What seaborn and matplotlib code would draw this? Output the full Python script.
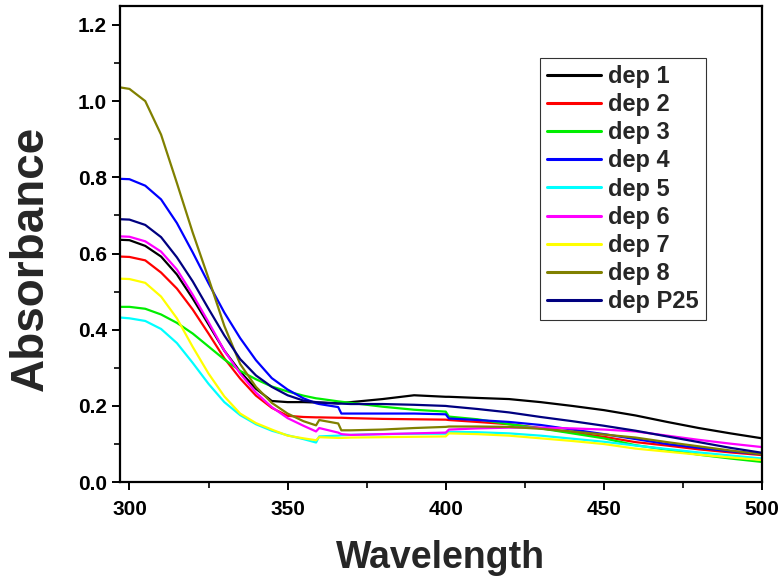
import matplotlib
matplotlib.use("Agg")
import matplotlib.pyplot as plt
import matplotlib.ticker as mticker
import pandas as pd
import seaborn as sns

wavelength = [297, 300, 305, 310, 315, 320, 325, 330, 335, 340, 345, 350, 355, 359, 360, 366, 367,
              370, 380, 390, 400, 401, 410, 420, 430, 440, 450, 460, 470, 480, 490, 500]

dep1 = [0.636, 0.635, 0.620, 0.592, 0.545, 0.482, 0.414, 0.345, 0.290, 0.245, 0.213, 0.210, 0.210, 0.209,
        0.209, 0.207, 0.208, 0.210, 0.218, 0.228, 0.224, 0.224, 0.221, 0.218, 0.210, 0.200, 0.189, 0.175,
        0.158, 0.142, 0.128, 0.115]
dep2 = [0.592, 0.591, 0.582, 0.550, 0.508, 0.453, 0.390, 0.325, 0.272, 0.227, 0.195, 0.174, 0.171, 0.170,
        0.170, 0.169, 0.169, 0.168, 0.166, 0.165, 0.164, 0.163, 0.158, 0.152, 0.142, 0.130, 0.119, 0.105,
        0.096, 0.086, 0.078, 0.071]
dep3 = [0.460, 0.460, 0.455, 0.440, 0.418, 0.390, 0.356, 0.322, 0.292, 0.270, 0.251, 0.238, 0.227, 0.220,
        0.219, 0.212, 0.211, 0.208, 0.198, 0.190, 0.185, 0.172, 0.165, 0.152, 0.141, 0.128, 0.115, 0.097,
        0.085, 0.072, 0.062, 0.053]
dep4 = [0.796, 0.795, 0.778, 0.742, 0.680, 0.603, 0.522, 0.445, 0.378, 0.320, 0.273, 0.243, 0.220, 0.207,
        0.205, 0.197, 0.180, 0.180, 0.180, 0.180, 0.178, 0.167, 0.163, 0.158, 0.150, 0.138, 0.126, 0.113,
        0.100, 0.090, 0.081, 0.073]
dep5 = [0.432, 0.430, 0.423, 0.402, 0.365, 0.313, 0.258, 0.210, 0.176, 0.152, 0.135, 0.123, 0.113, 0.104,
        0.120, 0.122, 0.123, 0.124, 0.126, 0.127, 0.127, 0.132, 0.131, 0.128, 0.122, 0.114, 0.106, 0.096,
        0.087, 0.078, 0.070, 0.062]
dep6 = [0.645, 0.644, 0.632, 0.605, 0.558, 0.492, 0.420, 0.345, 0.285, 0.235, 0.197, 0.168, 0.148, 0.133,
        0.142, 0.130, 0.126, 0.124, 0.126, 0.128, 0.130, 0.138, 0.141, 0.143, 0.143, 0.141, 0.138, 0.133,
        0.122, 0.111, 0.101, 0.092]
dep7 = [0.534, 0.533, 0.523, 0.487, 0.430, 0.355, 0.285, 0.225, 0.180, 0.155, 0.138, 0.122, 0.115, 0.110,
        0.118, 0.116, 0.116, 0.117, 0.118, 0.119, 0.120, 0.128, 0.126, 0.122, 0.115, 0.108, 0.100, 0.088,
        0.080, 0.072, 0.065, 0.058]
dep8 = [1.036, 1.032, 1.000, 0.912, 0.785, 0.655, 0.535, 0.410, 0.310, 0.250, 0.208, 0.180, 0.160, 0.149,
        0.163, 0.154, 0.136, 0.136, 0.138, 0.142, 0.145, 0.146, 0.146, 0.145, 0.140, 0.133, 0.125, 0.117,
        0.105, 0.094, 0.083, 0.073]
dep_p25 = [0.690, 0.689, 0.675, 0.643, 0.590, 0.527, 0.455, 0.385, 0.323, 0.280, 0.250, 0.228, 0.214, 0.210,
           0.209, 0.206, 0.206, 0.205, 0.205, 0.203, 0.200, 0.199, 0.192, 0.183, 0.171, 0.160, 0.148, 0.135,
           0.120, 0.105, 0.090, 0.077]

labels = ["dep 1", "dep 2", "dep 3", "dep 4", "dep 5", "dep 6", "dep 7", "dep 8", "dep P25"]
series = [dep1, dep2, dep3, dep4, dep5, dep6, dep7, dep8, dep_p25]
colors = ["#000000", "#ff0000", "#00ee00", "#0000ff", "#00ffff", "#ff00ff", "#ffff00", "#808000", "#000080"]

df = pd.concat(
    [pd.DataFrame({"Wavelength": wavelength, "Absorbance": vals, "sample": name})
     for name, vals in zip(labels, series)],
    ignore_index=True,
)

sns.set_style("ticks")
plt.rcParams["font.family"] = ["Liberation Sans", "DejaVu Sans"]
plt.rcParams["font.weight"] = "bold"

fig = plt.figure(figsize=(7.84, 5.83), dpi=100)
ax = fig.add_axes([0.153, 0.173, 0.819, 0.817])

sns.lineplot(data=df, x="Wavelength", y="Absorbance", hue="sample", palette=colors,
             estimator=None, sort=False, linewidth=1.6, ax=ax)

ax.set_xlim(297, 500)
ax.set_ylim(0, 1.25)
ax.xaxis.set_major_locator(mticker.MultipleLocator(50))
ax.xaxis.set_minor_locator(mticker.MultipleLocator(25))
ax.yaxis.set_major_locator(mticker.MultipleLocator(0.2))
ax.yaxis.set_minor_locator(mticker.MultipleLocator(0.1))
ax.yaxis.set_major_formatter(mticker.FormatStrFormatter("%.1f"))

for s in ax.spines.values():
    s.set_linewidth(1.6)
    s.set_color("black")
ax.tick_params(which="major", direction="out", length=6, width=1.4, labelsize=15, colors="black")
ax.tick_params(axis="x", which="major", pad=7)
ax.tick_params(which="minor", direction="out", length=4, width=1.4)
for lab in ax.get_xticklabels() + ax.get_yticklabels():
    lab.set_fontweight("bold")

ax.set_xlabel("Wavelength", fontsize=27, fontweight="bold", labelpad=15)
ax.set_ylabel("Absorbance", fontsize=33, fontweight="bold", labelpad=18)
ax.yaxis.label.set_y(0.47)

leg = ax.legend(loc="upper left", bbox_to_anchor=(0.654, 0.891), frameon=True, fancybox=False,
                edgecolor="black", fontsize=17, handlelength=2.3, handletextpad=0.3,
                labelspacing=0.22, borderpad=0.3, borderaxespad=0)
leg.get_frame().set_linewidth(0.8)
for t in leg.get_texts():
    t.set_fontweight("bold")
for ln in leg.get_lines():
    ln.set_linewidth(2.2)

fig.savefig("out.png", dpi=100)
